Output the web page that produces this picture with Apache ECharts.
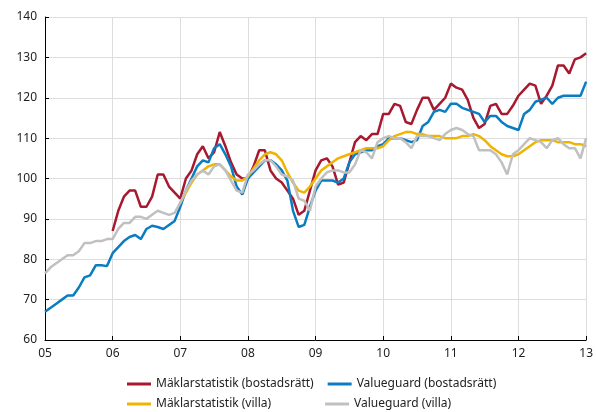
<!DOCTYPE html><html><head><meta charset="utf-8"><script src="https://cdn.jsdelivr.net/npm/echarts@6/dist/echarts.min.js"></script></head><body style="margin:0"><div id="c" style="width:596px;height:412px"></div><script>
const xLabels=['05','06','07','08','09','10','11','12','13'];
const vgBr=[67,68,69,70,71,71,73,75.5,76,78.5,78.5,78.3,
81.5,83,84.5,85.5,86,85,87.5,88.3,88,87.5,88.5,89.5,
93,97,100,103,104.5,104,107.5,108.5,106,103,98,96,
100,101.5,103,104.5,104.5,103.5,102,99.5,92,88,88.5,93,
97,99.5,99.5,99.5,99,100,104,106,106.5,107,107,108,
108.5,110,110,110,109.5,109,109.5,113,114,116.5,117,116.5,
118.5,118.5,117.5,117,116.5,116,114,115.5,115.5,114,113,112.5,
112,116,117,119,119.5,120,118.5,120,120.5,120.5,120.5,120.5,124];
const mkBr=[87,92,95.5,97,97,93,93,95.5,101,101,98,96.5,
95,100,102,106,108,105,106.5,111.5,108,104,101,100,
100,103,107,107,102,100,99,97,95,91,92,97,
102,104.5,105,103,98.5,99,104,109,110.5,109.5,111,111,
116,116,118.5,118,114,113.5,117,120,120,117,118.5,120,
123.5,122.5,122,119.5,115,112.5,113.5,118,118.5,116,116,118,
120.5,122,123.5,123,118.5,120.5,123,128,128,126,129.5,130,131];
const mkVilla=[94,96.5,99,101,102,103,103.5,103.5,102,100.5,99.5,99.5,
100.5,102.5,104.5,106,106.5,106,104.5,101.5,99,97,96.5,98,
100,102,103,104,105,105.5,106,106.5,107,107.5,107.5,107.5,
108,109.5,110.5,111,111.5,111.5,111,111,110.5,110.5,110.5,110,
110,110,110.5,110.5,111,110.5,109.5,108,107,106,105.5,105.5,
106,107,108,109,109.5,109.5,109.5,109,109,109,108.5,108.5,108];
const vgVilla=[76.5,78,79,80,81,81,82,84,84,84.5,84.5,85,
85,87.5,89,89,90.5,90.5,90,91,92,91.5,91,91.5,
94,97,99.5,101,102,101,103,103.5,102,99.5,97,96.5,
101,102,103.5,104.5,104.5,103,101,100.5,99.5,95,94.5,92,
98,100,101.5,102,102,101.5,101.5,103.5,107,106.5,105,109,
110,110.5,110,110,109,107.5,110.5,110.5,110.5,110,109.5,111,
112,112.5,112,111,110.5,107,107,107,106,104,101,106,
107,108.5,110,109.5,109,107.5,109.5,110,108.5,107.5,107.5,105,110];
const toXY=(arr,start)=>arr.map((v,i)=>[start+i/12,v]);
const ch=echarts.init(document.getElementById('c'));
const ln=(name,arr,start,color)=>({name,type:'line',data:toXY(arr,start),symbol:'none',lineStyle:{color,width:2.5},itemStyle:{color}});
const lg={icon:'rect',itemWidth:24,itemHeight:3,itemGap:10,textStyle:{fontSize:12,color:'#222',fontFamily:'Noto Sans'},orient:'horizontal'};
ch.setOption({animation:false,
grid:{left:45,right:8,top:17,bottom:72},
xAxis:{type:'value',min:5,max:13,interval:1,axisLine:{lineStyle:{color:'#000'}},axisTick:{show:true,inside:true,length:4},axisLabel:{formatter:v=>xLabels[Math.round(v-5)],color:'#222',fontSize:12,fontFamily:'Noto Sans'},splitLine:{lineStyle:{color:'#ddd'}}},
yAxis:{type:'value',min:60,max:140,interval:10,axisLine:{show:true,lineStyle:{color:'#000'}},axisTick:{show:true,inside:true,length:4},axisLabel:{color:'#222',fontSize:12,fontFamily:'Noto Sans'},splitLine:{lineStyle:{color:'#ddd'}}},
legend:[
 Object.assign({},lg,{data:['Mäklarstatistik (bostadsrätt)','Valueguard (bostadsrätt)'],left:122,top:373,itemGap:14}),
 Object.assign({},lg,{data:['Mäklarstatistik (villa)','Valueguard (villa)'],left:122,top:393,itemGap:54})],
series:[ln('Mäklarstatistik (bostadsrätt)',mkBr,6,'#a6192e'),ln('Valueguard (bostadsrätt)',vgBr,5,'#0a7cc1'),
ln('Mäklarstatistik (villa)',mkVilla,7,'#f0b400'),ln('Valueguard (villa)',vgVilla,5,'#c0c0c0')]});
</script></body></html>
